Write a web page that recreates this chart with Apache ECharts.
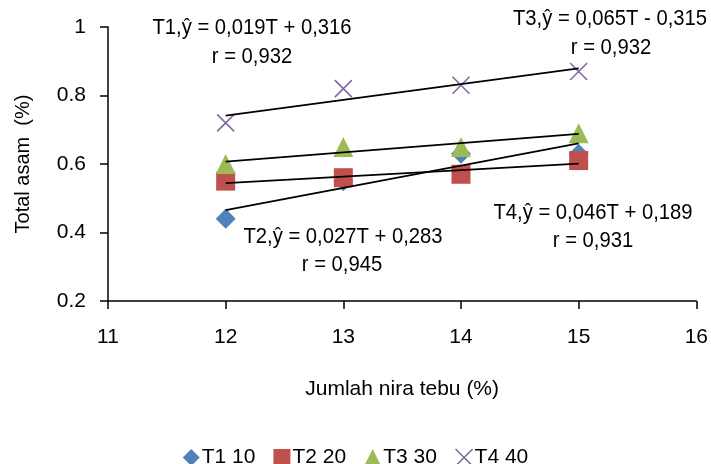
<!DOCTYPE html>
<html>
<head>
<meta charset="utf-8">
<script src="https://cdn.jsdelivr.net/npm/echarts@6/dist/echarts.min.js"></script>
<style>
  html, body { margin: 0; padding: 0; background: #fff; }
  #chart { width: 711px; height: 464px; }
</style>
</head>
<body>
<div id="chart"></div>
<script>
// data
const xValues = [12, 13, 14, 15]
const t1 = [0.44, 0.55, 0.63, 0.63]
const t2 = [0.55, 0.56, 0.57, 0.61]
const t3 = [0.60, 0.65, 0.65, 0.69]
const t4 = [0.72, 0.82, 0.83, 0.87]
const seriesNames = ['T1 10', 'T2 20', 'T3 30', 'T4 40']
const eqTexts = [
  'T1,ŷ = 0,019T + 0,316', 'r = 0,932',
  'T2,ŷ = 0,027T + 0,283', 'r = 0,945',
  'T3,ŷ = 0,065T - 0,315', 'r = 0,932',
  'T4,ŷ = 0,046T + 0,189', 'r = 0,931'
]

const FONT = "'Liberation Sans', Arial, sans-serif"
const colors = ['#4F81BD', '#C0504D', '#9BBB59', '#8064A2']
const symbols = ['diamond', 'rect', 'triangle', 'path://M0,0L10,10M10,0L0,10']
const symSizes = [20, 19, 20, 17]

// least squares trendline over the points, drawn from first to last x
function trend(ys) {
  const n = xValues.length
  const mx = xValues.reduce((a, b) => a + b, 0) / n
  const my = ys.reduce((a, b) => a + b, 0) / n
  let sxy = 0, sxx = 0
  for (let i = 0; i < n; i++) {
    sxy += (xValues[i] - mx) * (ys[i] - my)
    sxx += (xValues[i] - mx) * (xValues[i] - mx)
  }
  const b = sxy / sxx
  const a = my - b * mx
  const x0 = xValues[0], x1 = xValues[n - 1]
  return [[x0, a + b * x0], [x1, a + b * x1]]
}

function markStyle(i) {
  return i === 3
    ? { color: 'rgba(0,0,0,0)', borderColor: colors[i], borderWidth: 1.5, opacity: 1 }
    : { color: colors[i], opacity: 1 }
}

const chart = echarts.init(document.getElementById('chart'))
const all = [t1, t2, t3, t4]

const series = []
all.forEach((ys, i) => {
  series.push({
    name: seriesNames[i],
    type: 'scatter',
    symbol: symbols[i],
    symbolSize: symSizes[i],
    itemStyle: markStyle(i),
    data: xValues.map((x, k) => [x, ys[k]]),
    z: 2
  })
})
all.forEach((ys) => {
  series.push({
    type: 'line',
    data: trend(ys),
    symbol: 'none',
    lineStyle: { color: '#000', width: 1.8 },
    silent: true,
    z: 3
  })
})

const textStyle = { fontFamily: FONT, fontSize: 22, fill: '#000', textAlign: 'center', textVerticalAlign: 'middle' }
const eqPos = [[252, 28], [252, 57], [343, 237], [342, 265], [610, 19], [611, 48], [593, 213], [593, 241]]

chart.setOption({
  animation: false,
  textStyle: { fontFamily: FONT },
  grid: { left: 108, right: 13, top: 27, bottom: 163, containLabel: false },
  legend: {
    data: seriesNames.map((n, i) => ({ name: n, icon: symbols[i], itemStyle: markStyle(i) })),
    left: 'center',
    top: 442,
    itemWidth: 17,
    itemHeight: 17,
    itemGap: 18,
    textStyle: { fontFamily: FONT, fontSize: 21, color: '#000', padding: [0, 0, 0, -3] }
  },
  xAxis: {
    type: 'value',
    min: 11,
    max: 16,
    interval: 1,
    name: 'Jumlah nira tebu (%)',
    nameLocation: 'middle',
    nameGap: 78,
    nameTextStyle: { fontFamily: FONT, fontSize: 21, color: '#000' },
    axisLine: { lineStyle: { color: '#000', width: 1.5 } },
    axisTick: { show: true, inside: false, length: 8, lineStyle: { color: '#000', width: 1.5 } },
    axisLabel: { fontFamily: FONT, fontSize: 21, color: '#000', margin: 26 },
    splitLine: { show: false }
  },
  yAxis: {
    type: 'value',
    min: 0.2,
    max: 1,
    interval: 0.2,
    name: 'Total asam  (%)',
    nameLocation: 'middle',
    nameGap: 75,
    nameTextStyle: { fontFamily: FONT, fontSize: 20, color: '#000' },
    axisLine: { show: true, lineStyle: { color: '#000', width: 1.5 } },
    axisTick: { show: true, inside: false, length: 8, lineStyle: { color: '#000', width: 1.5 } },
    axisLabel: {
      fontFamily: FONT, fontSize: 21, color: '#000', margin: 22,
      formatter: v => String(Math.round(v * 10) / 10)
    },
    splitLine: { show: false }
  },
  graphic: eqTexts.map((t, i) => ({
    type: 'text',
    x: eqPos[i][0],
    y: eqPos[i][1],
    scaleX: 0.92,
    style: Object.assign({ text: t }, textStyle),
    z: 10
  })),
  series: series
})
</script>
</body>
</html>
